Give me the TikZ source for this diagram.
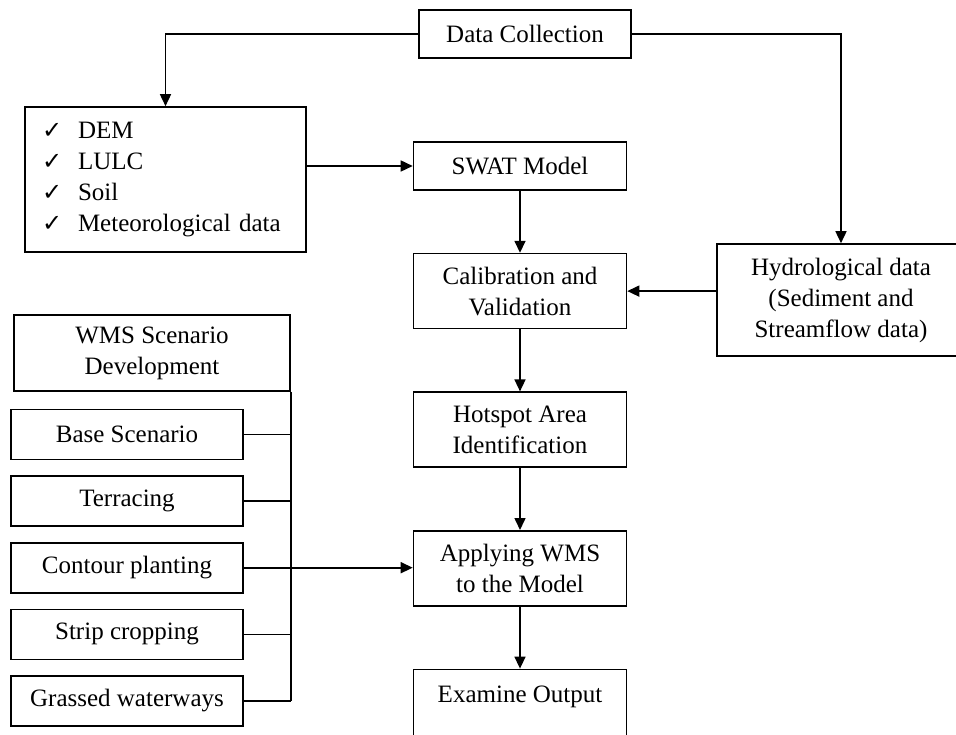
\documentclass[tikz,border=0pt]{standalone}
\usepackage{fontspec}
\setmainfont{Liberation Serif}
\newfontfamily\symfont{DejaVu Sans}
\usepackage{tikz}
\usetikzlibrary{arrows.meta,positioning}

\newcommand\tick[1]{\makebox[36pt][l]{\symfont\fontsize{24}{31}\selectfont ✓}#1}

\begin{document}
\begin{tikzpicture}[x=1pt, y=-1pt,
node distance = 62pt and 20pt,
  box/.style = {draw, line width=1.6pt, inner sep=0pt,
                minimum width=213pt, minimum height=75pt,
                align=center, font=\fontsize{25}{31}\selectfont},
lowbox/.style = {box, minimum height=48pt},
sidebox/.style = {box, minimum width=232pt, minimum height=50pt},
listbox/.style = {box, text width=247pt, inner xsep=17pt,
                  minimum height=145pt, align=left},
  arr/.style = {line width=1.6pt, -{Triangle[length=12pt,width=11pt]}},
 conn/.style = {line width=1.6pt}
                ]
\useasboundingbox (0,0) rectangle (956,735);
%% top row
\node (dc)   [lowbox, minimum width=212pt] at (525,34) {Data Collection};
\node (inp)  [listbox] at (165.5,179.5)
      {\tick{DEM}\\ \tick{LULC}\\ \tick{Soil}\\ \tick{Meteorological data}};
\node (hydro) [box, minimum width=248pt, minimum height=112pt] at (841,300)
      {Hydrological data\\ (Sediment and\\ Streamflow data)};
%% main column
\node (swat)  [lowbox] at (520,166) {SWAT Model};
\node (calib) [box, below=of swat]  {Calibration and\\ Validation};
\node (hot)   [box, below=of calib] {Hotspot Area\\ Identification};
\node (apply) [box, below=of hot]   {Applying WMS\\ to the Model};
\node (exam)  [box, below=of apply, text height=33pt, text depth=42pt] {Examine Output};
%% scenarios
\node (wms)   [box, minimum width=276pt, minimum height=76pt] at (152,353)
      {WMS Scenario\\ Development};
\node (base)  [sidebox] at (127,434.5) {Base Scenario};
\node (terr)  [sidebox, below=15pt of base] {Terracing};
\node (cont)  [sidebox, below=15pt of terr] {Contour planting};
\node (strip) [sidebox, below=15pt of cont] {Strip cropping};
\node (grass) [sidebox, below=15pt of strip] {Grassed waterways};
%% connectors
\draw [arr] (dc.west) -| (inp.north);
\draw [arr] (dc.east) -| (hydro.north);
\draw [arr] (swat.west -| inp.east) -- (swat.west);
\draw [arr] (swat) -- (calib);
\draw [arr] (calib.east -| hydro.west) -- (calib.east);
\draw [arr] (calib) -- (hot);
\draw [arr] (hot) -- (apply);
\draw [arr] (apply) -- (exam);
\draw [conn] (wms.south east) -- (wms.south east |- grass.east);
\foreach \s in {base,terr,cont,strip,grass}
    \draw [conn] (\s.east) -- (\s.east -| wms.east);
\draw [arr] (cont.east -| wms.east) -- (cont.east -| apply.west);
\end{tikzpicture}
\end{document}
